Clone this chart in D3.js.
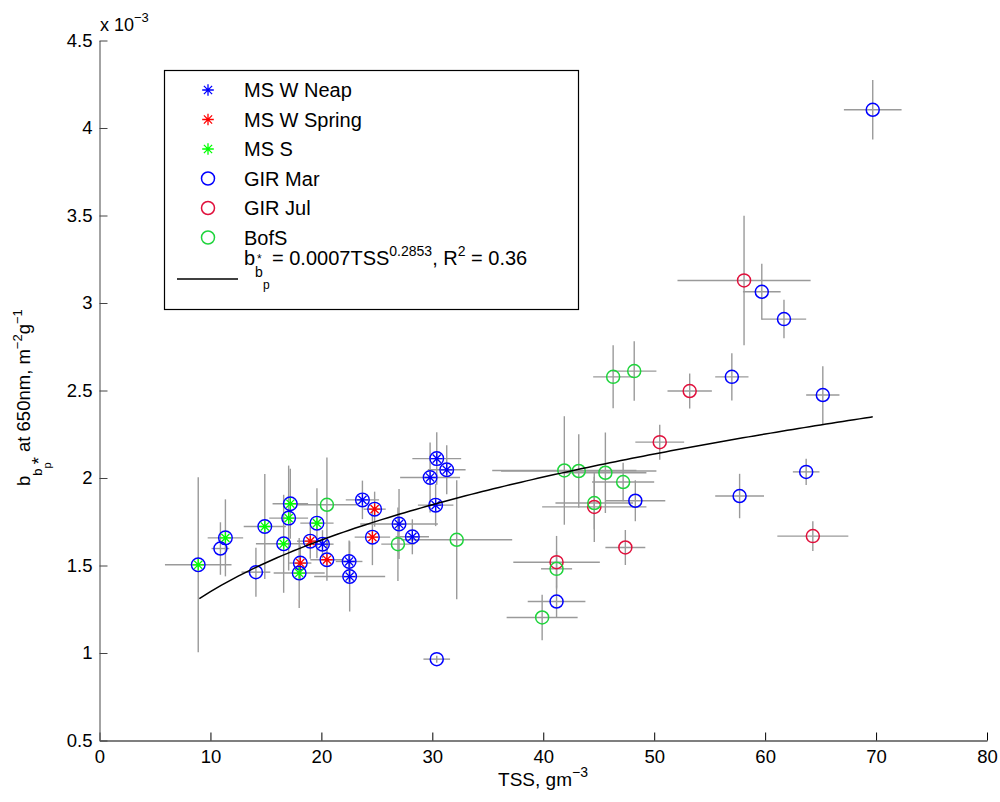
<!DOCTYPE html>
<html>
<head>
<meta charset="utf-8">
<script src="https://cdn.jsdelivr.net/npm/d3@7"></script>
<style>
  body { margin: 0; background: #fff; }
  svg { font-family: "Liberation Sans", Arial, Helvetica, sans-serif; }
</style>
</head>
<body>
<svg id="chart" width="1000" height="802"></svg>
<script>
// values, y in units of 1e-3
const neapX    = [20.1, 22.5, 22.55, 23.7, 27.0, 28.2, 30.3, 29.8, 30.4, 31.3]
const neapY    = [1.622, 1.523, 1.437, 1.875, 1.737, 1.664, 1.845, 2.003, 2.111, 2.047]
const neapXErr = [1.0, 1.2, 3.2, 1.5, 3.5, 1.5, 1.6, 2.7, 2.2, 1.7]
const neapYErr = [0.08, 0.12, 0.2, 0.11, 0.2, 0.1, 0.12, 0.2, 0.15, 0.14]

const springX    = [19.0, 18.1, 20.5, 24.8, 24.6]
const springY    = [1.639, 1.514, 1.533, 1.822, 1.662]
const springXErr = [1.2, 1.0, 1.5, 1.0, 1.6]
const springYErr = [0.1, 0.1, 0.12, 0.1, 0.16]

const msSX    = [8.9, 11.35, 14.9, 17.2, 17.05, 19.6, 16.6, 18.0]
const msSY    = [1.504, 1.658, 1.723, 1.853, 1.771, 1.742, 1.624, 1.457]
const msSXErr = [3.0, 1.6, 1.9, 1.6, 1.75, 1.5, 2.5, 2.3]
const msSYErr = [0.5, 0.22, 0.3, 0.2, 0.3, 0.2, 0.28, 0.2]

const marX    = [69.7, 59.7, 61.7, 57.0, 65.2, 63.7, 57.7, 48.3, 41.2, 30.4, 10.9, 14.1]
const marY    = [4.104, 3.064, 2.908, 2.578, 2.474, 2.035, 1.897, 1.870, 1.294, 0.965, 1.597, 1.462]
const marXErr = [2.6, 1.7, 2.0, 1.5, 1.5, 1.2, 2.2, 2.7, 2.6, 1.2, 0.8, 1.3]
const marYErr = [0.17, 0.16, 0.11, 0.135, 0.165, 0.075, 0.127, 0.117, 0.09, 0.02, 0.15, 0.14]

const julX    = [58.1, 53.2, 50.5, 44.6, 47.4, 41.2, 64.3]
const julY    = [3.129, 2.497, 2.205, 1.835, 1.603, 1.519, 1.668]
const julXErr = [6.0, 2.0, 2.2, 4.7, 1.8, 3.9, 3.2]
const julYErr = [0.37, 0.1, 0.1, 0.2, 0.1, 0.15, 0.085]

const bofsX    = [46.3, 48.2, 41.9, 43.2, 45.6, 47.2, 44.6, 41.2, 39.9, 32.2, 26.9, 20.5]
const bofsY    = [2.578, 2.611, 2.043, 2.04, 2.03, 1.977, 1.857, 1.481, 1.203, 1.647, 1.622, 1.847]
const bofsXErr = [1.8, 2.0, 6.5, 7.0, 3.7, 2.8, 3.5, 1.4, 3.2, 5.0, 1.5, 2.7]
const bofsYErr = [0.18, 0.17, 0.31, 0.21, 0.23, 0.11, 0.15, 0.1, 0.13, 0.34, 0.21, 0.27]

// power fit from the legend: y = 0.0007 * TSS^0.2853
const fitA = 0.7, fitB = 0.2853, fitMin = 9, fitMax = 69.7

const xTicks = [0, 10, 20, 30, 40, 50, 60, 70, 80]
const yTicks = [0.5, 1, 1.5, 2, 2.5, 3, 3.5, 4, 4.5]

const series = [
  { name: 'MS W Neap',   x: neapX,   y: neapY,   xe: neapXErr,   ye: neapYErr,   star: '#0000ff', ring: true },
  { name: 'MS W Spring', x: springX, y: springY, xe: springXErr, ye: springYErr, star: '#ff0000', ring: true },
  { name: 'MS S',        x: msSX,    y: msSY,    xe: msSXErr,    ye: msSYErr,    star: '#00ff00', ring: true },
  { name: 'GIR Mar',     x: marX,    y: marY,    xe: marXErr,    ye: marYErr,    circle: '#0000ff' },
  { name: 'GIR Jul',     x: julX,    y: julY,    xe: julXErr,    ye: julYErr,    circle: '#e0103c' },
  { name: 'BofS',        x: bofsX,   y: bofsY,   xe: bofsXErr,   ye: bofsYErr,   circle: '#1fd43c' }
]

const svg = d3.select('#chart')
const x = d3.scaleLinear().domain([0, 80]).range([99.5, 987])
const y = d3.scaleLinear().domain([0.5, 4.5]).range([740.5, 40.5])

// error bars
const bars = svg.append('g').attr('stroke', '#9a9a9a').attr('stroke-width', 1.4)
series.forEach(s => {
  s.x.forEach((v, i) => {
    bars.append('line')
      .attr('x1', x(v - s.xe[i])).attr('x2', x(v + s.xe[i]))
      .attr('y1', y(s.y[i])).attr('y2', y(s.y[i]))
    bars.append('line')
      .attr('x1', x(v)).attr('x2', x(v))
      .attr('y1', y(s.y[i] - s.ye[i])).attr('y2', y(s.y[i] + s.ye[i]))
  })
})

function drawStar(g, cx, cy, r, color) {
  const d = r * Math.SQRT1_2
  const p = `M${cx - r},${cy}H${cx + r}M${cx},${cy - r}V${cy + r}` +
    `M${cx - d},${cy - d}L${cx + d},${cy + d}M${cx - d},${cy + d}L${cx + d},${cy - d}`
  g.append('path').attr('d', p).attr('stroke', color).attr('stroke-width', 1.3).attr('fill', 'none')
}

// markers
const marks = svg.append('g')
series.forEach(s => {
  s.x.forEach((v, i) => {
    const cx = x(v), cy = y(s.y[i])
    if (s.star) {
      drawStar(marks, cx, cy, 5.8, s.star)
      marks.append('circle').attr('cx', cx).attr('cy', cy).attr('r', 6.8)
        .attr('fill', 'none').attr('stroke', '#0000ff').attr('stroke-width', 1.4)
    } else {
      marks.append('circle').attr('cx', cx).attr('cy', cy).attr('r', 6.5)
        .attr('fill', 'none').attr('stroke', s.circle).attr('stroke-width', 1.5)
    }
  })
})

// fitted curve
const fitXs = d3.range(fitMin, fitMax, 0.5).concat([fitMax])
svg.append('path')
  .attr('d', d3.line().x(d => x(d)).y(d => y(fitA * Math.pow(d, fitB)))(fitXs))
  .attr('fill', 'none').attr('stroke', '#000').attr('stroke-width', 1.5)

// axes
const xAxis = svg.append('g').attr('transform', 'translate(0,740.5)')
  .call(d3.axisBottom(x).tickValues(xTicks).tickSize(-8).tickSizeOuter(0).tickPadding(9))
xAxis.select('.domain').attr('stroke', '#000').attr('stroke-width', 1.2)
xAxis.selectAll('.tick line').attr('stroke', '#000')
xAxis.selectAll('text').attr('font-size', 18.5).attr('fill', '#000').attr('font-family', null)

const yAxis = svg.append('g').attr('transform', 'translate(99.5,0)')
  .call(d3.axisLeft(y).tickValues(yTicks).tickSize(-8).tickSizeOuter(0).tickPadding(7).tickFormat(d3.format('')))
yAxis.select('.domain').attr('stroke', '#666').attr('stroke-width', 1.2)
yAxis.selectAll('.tick line').attr('stroke', '#444')
yAxis.selectAll('text').attr('font-size', 18.5).attr('fill', '#000').attr('font-family', null)

// exponent label
const expo = svg.append('text').attr('x', 100).attr('y', 31).attr('font-size', 18)
expo.append('tspan').text('x 10')
expo.append('tspan').attr('font-size', 13).attr('dy', -9).text('\u22123')

// x label
const xl = svg.append('text').attr('x', 543).attr('y', 786).attr('font-size', 19).attr('text-anchor', 'middle')
xl.append('tspan').text('TSS, gm')
xl.append('tspan').attr('font-size', 14).attr('dy', -9).text('\u22123')

// y label
const yl = svg.append('text').attr('transform', 'translate(30,486) rotate(-90)').attr('font-size', 18.5)
yl.append('tspan').text('b')
yl.append('tspan').attr('font-size', 13).attr('dy', 12).text('b')
yl.append('tspan').attr('font-size', 11).attr('dy', 9).text('p')
yl.append('tspan').attr('font-size', 18.5).attr('dy', -6).attr('dx', -2).text('*')
yl.append('tspan').attr('font-size', 18.5).attr('dy', -15).text(' at 650nm, m')
yl.append('tspan').attr('font-size', 13).attr('dy', -8).text('\u22122')
yl.append('tspan').attr('font-size', 18.5).attr('dy', 8).text('g')
yl.append('tspan').attr('font-size', 13).attr('dy', -8).text('\u22121')

// legend
const lg = svg.append('g')
lg.append('rect').attr('x', 164.5).attr('y', 70.5).attr('width', 414).attr('height', 239)
  .attr('fill', '#fff').attr('stroke', '#000').attr('stroke-width', 1.2)
const rowY = [90, 119.5, 149, 178.5, 208, 237.5]
series.forEach((s, i) => {
  if (s.star) drawStar(lg, 208, rowY[i], 5.8, s.star)
  else lg.append('circle').attr('cx', 208).attr('cy', rowY[i]).attr('r', 6.5)
    .attr('fill', 'none').attr('stroke', s.circle).attr('stroke-width', 1.5)
  lg.append('text').attr('x', 244).attr('y', rowY[i] + 7).attr('font-size', 20).text(s.name)
})
lg.append('line').attr('x1', 177).attr('x2', 238).attr('y1', 279).attr('y2', 279)
  .attr('stroke', '#000').attr('stroke-width', 1.3)
lg.append('text').attr('x', 244).attr('y', 265).attr('font-size', 20).text('b')
lg.append('text').attr('x', 255).attr('y', 277).attr('font-size', 14).text('b')
lg.append('text').attr('x', 263).attr('y', 289).attr('font-size', 12).text('p')
lg.append('text').attr('x', 257).attr('y', 263).attr('font-size', 12).text('*')
const eq = lg.append('text').attr('x', 272).attr('y', 265).attr('font-size', 20)
eq.append('tspan').text(' = 0.0007TSS')
eq.append('tspan').attr('font-size', 14).attr('dy', -9).text('0.2853')
eq.append('tspan').attr('dy', 9).text(', R')
eq.append('tspan').attr('font-size', 14).attr('dy', -9).text('2')
eq.append('tspan').attr('dy', 9).text(' = 0.36')
</script>
</body>
</html>
